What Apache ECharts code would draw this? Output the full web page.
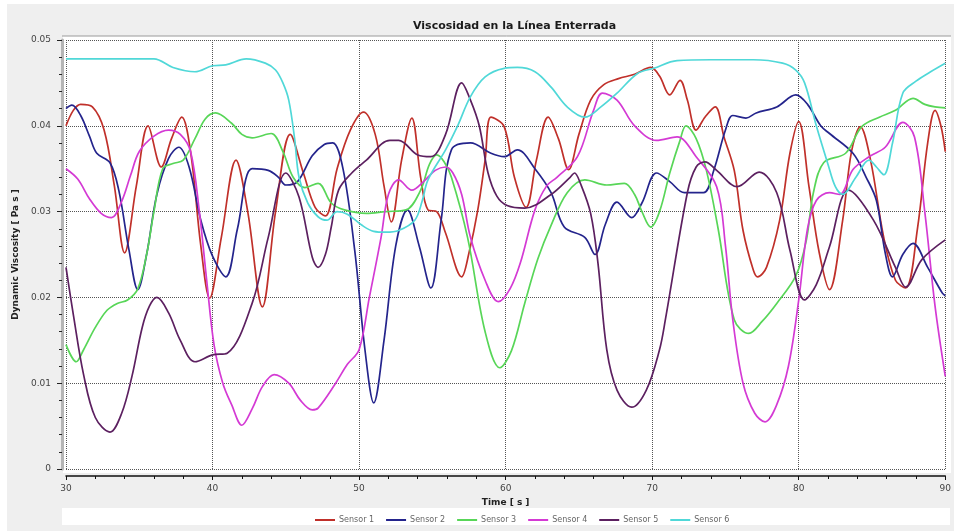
<!DOCTYPE html>
<html>
<head>
<meta charset="utf-8">
<script src="https://cdn.jsdelivr.net/npm/echarts@6/dist/echarts.min.js"></script>
<style>html,body{margin:0;padding:0;background:#fff}#c{width:954px;height:531px}</style>
</head>
<body>
<div id="c"></div>
<script>
const seriesNames = ['Sensor 1','Sensor 2','Sensor 3','Sensor 4','Sensor 5','Sensor 6'];
const seriesColors = ['#c0302a','#24248c','#58d658','#d43ad4','#5c2060','#50d8d8'];
const xTicks = [30,40,50,60,70,80,90];
const yTicks = [0,0.01,0.02,0.03,0.04,0.05];

const s1 = [[30,0.0400],[30.5,0.0418],[31,0.0425],[31.8,0.0422],[32.6,0.0395],[33.3,0.0330],[34.0,0.0252],[34.8,0.0330],[35.6,0.0400],[36.5,0.0352],[37.2,0.0385],[37.9,0.0410],[38.5,0.0370],[39.2,0.0260],[39.8,0.0199],[40.6,0.0270],[41.6,0.0360],[42.4,0.0300],[43.4,0.0189],[44.3,0.0300],[45.3,0.0390],[46.2,0.0345],[47.0,0.0305],[47.7,0.0295],[48.5,0.0350],[49.4,0.0395],[50.3,0.0416],[51.1,0.0390],[51.7,0.0330],[52.2,0.0288],[52.9,0.0360],[53.6,0.0409],[54.2,0.0340],[54.7,0.0302],[55.3,0.0300],[55.9,0.0275],[57.0,0.0224],[57.5,0.0252],[58.1,0.0302],[58.6,0.0360],[59.0,0.0410],[59.9,0.0399],[60.6,0.0340],[61.4,0.0305],[62.1,0.0360],[62.9,0.0410],[63.6,0.0385],[64.3,0.0349],[65.0,0.0390],[65.8,0.0430],[66.7,0.0448],[67.7,0.0455],[68.8,0.0460],[69.9,0.0468],[70.5,0.0458],[71.2,0.0436],[71.9,0.0453],[72.4,0.0430],[73.0,0.0395],[73.6,0.0410],[74.3,0.0422],[74.9,0.0387],[75.6,0.0348],[76.2,0.0278],[76.9,0.0232],[77.2,0.0224],[77.8,0.0235],[78.7,0.0290],[79.4,0.0368],[80.0,0.0405],[80.7,0.0329],[81.4,0.0252],[82.1,0.0209],[83.0,0.0290],[83.6,0.0370],[84.2,0.0399],[84.9,0.0360],[85.8,0.0270],[86.6,0.0220],[87.3,0.0211],[88.1,0.0280],[88.8,0.0380],[89.3,0.0418],[89.7,0.0400],[90.0,0.0370]];

const s2 = [[30,0.0420],[30.4,0.0424],[31.0,0.0412],[31.6,0.0388],[32.1,0.0368],[33.0,0.0357],[33.6,0.0325],[34.3,0.0255],[34.9,0.0209],[35.5,0.0250],[36.2,0.0320],[37.0,0.0362],[37.7,0.0375],[38.4,0.0352],[39.2,0.0290],[40.0,0.0248],[40.9,0.0224],[41.7,0.0280],[42.7,0.0350],[43.8,0.0348],[44.5,0.0340],[45.0,0.0331],[45.8,0.0335],[46.8,0.0365],[47.6,0.0378],[48.2,0.0380],[48.9,0.0350],[49.7,0.0255],[50.4,0.0139],[51.0,0.0077],[51.7,0.0150],[52.5,0.0260],[53.3,0.0302],[54.1,0.0260],[54.9,0.0211],[55.6,0.0290],[56.3,0.0372],[57.6,0.0380],[59.0,0.0368],[59.9,0.0364],[60.8,0.0372],[62.0,0.0350],[63.1,0.0322],[64.0,0.0282],[65.4,0.0270],[66.1,0.0250],[66.8,0.0285],[67.6,0.0311],[68.6,0.0293],[69.3,0.0310],[70.3,0.0345],[71.2,0.0335],[72.2,0.0322],[73.5,0.0322],[74.2,0.0348],[75.0,0.0395],[75.5,0.0412],[76.4,0.0409],[77.1,0.0415],[78.5,0.0422],[79.8,0.0436],[80.6,0.0425],[81.5,0.0400],[82.1,0.0391],[83.7,0.0368],[84.6,0.0340],[85.3,0.0313],[85.9,0.0252],[86.4,0.0224],[87.1,0.0250],[87.8,0.0263],[88.8,0.0235],[89.8,0.0205],[90,0.0202]];

const s3 = [[30,0.0145],[30.7,0.0125],[31.2,0.0139],[32.0,0.0165],[32.8,0.0185],[33.5,0.0193],[34.2,0.0197],[34.9,0.0210],[35.5,0.0250],[36.0,0.0300],[36.6,0.0350],[37.3,0.0356],[38.0,0.0360],[38.8,0.0385],[39.5,0.0408],[40.2,0.0415],[41.3,0.0403],[42.0,0.0390],[42.7,0.0386],[44.0,0.0391],[44.8,0.0370],[45.5,0.0340],[46.3,0.0328],[47.2,0.0333],[48.1,0.0310],[49.0,0.0302],[50.5,0.0298],[51.8,0.0300],[53.2,0.0302],[54.2,0.0325],[54.8,0.0355],[55.3,0.0366],[55.8,0.0358],[56.3,0.0340],[57.4,0.0270],[58.6,0.0160],[59.6,0.0118],[60.4,0.0138],[61.3,0.0193],[62.2,0.0245],[63.1,0.0284],[64.2,0.0322],[65.4,0.0337],[66.9,0.0331],[68.1,0.0333],[68.8,0.0320],[69.3,0.0300],[69.9,0.0282],[70.5,0.0300],[71.2,0.0345],[71.9,0.0383],[72.3,0.0400],[73.0,0.0385],[73.7,0.0348],[74.5,0.0280],[75.6,0.0174],[76.6,0.0158],[77.5,0.0172],[78.5,0.0193],[79.8,0.0225],[80.5,0.0265],[81.0,0.0322],[81.7,0.0357],[83.2,0.0368],[84.3,0.0399],[85.5,0.0410],[86.6,0.0418],[87.8,0.0432],[88.6,0.0425],[89.3,0.0422],[90,0.0421]];

const s4 = [[30,0.0350],[30.8,0.0338],[31.6,0.0315],[32.4,0.0298],[33.1,0.0293],[33.8,0.0312],[34.4,0.0342],[35.0,0.0370],[36.0,0.0388],[37.0,0.0395],[37.8,0.0390],[38.5,0.0370],[39.1,0.0300],[39.6,0.0220],[40.1,0.0145],[40.7,0.0100],[41.3,0.0075],[42.0,0.0051],[42.7,0.0070],[43.4,0.0096],[44.2,0.0110],[45.2,0.0100],[46.0,0.0080],[46.8,0.0069],[47.2,0.0071],[48.4,0.0100],[49.2,0.0122],[50.0,0.0139],[50.7,0.0200],[51.5,0.0270],[52.0,0.0320],[52.7,0.0337],[53.6,0.0325],[54.4,0.0335],[55.2,0.0348],[55.9,0.0352],[56.4,0.0345],[57.0,0.0320],[57.6,0.0270],[58.6,0.0220],[59.5,0.0195],[60.3,0.0210],[61.0,0.0240],[62.0,0.0302],[62.8,0.0330],[63.5,0.0340],[64.9,0.0364],[66.0,0.0418],[66.6,0.0438],[67.6,0.0430],[68.8,0.0400],[70.3,0.0383],[71.7,0.0387],[73.0,0.0364],[74.4,0.0329],[75.0,0.0260],[75.5,0.0174],[76.2,0.0100],[77.0,0.0065],[77.7,0.0055],[78.5,0.0075],[79.3,0.0120],[80.0,0.0197],[80.6,0.0280],[81.2,0.0313],[82.1,0.0322],[82.8,0.0320],[83.7,0.0349],[84.8,0.0364],[85.9,0.0375],[87.1,0.0404],[87.9,0.0387],[88.6,0.0300],[89.3,0.0190],[90,0.0108]];

const s5 = [[30,0.0235],[30.5,0.0180],[31.2,0.0110],[32.0,0.0060],[33.0,0.0043],[33.8,0.0065],[34.5,0.0108],[35.2,0.0165],[35.7,0.0190],[36.2,0.0200],[37.0,0.0182],[37.8,0.0150],[38.8,0.0125],[40.0,0.0133],[41.0,0.0135],[42.7,0.0193],[43.8,0.0270],[45.0,0.0345],[45.9,0.0317],[46.8,0.0247],[47.2,0.0235],[47.7,0.0250],[48.1,0.0282],[48.6,0.0325],[49.5,0.0345],[50.5,0.0360],[52.1,0.0383],[52.7,0.0383],[54.0,0.0366],[54.9,0.0364],[55.9,0.0390],[57.0,0.0450],[57.6,0.0430],[58.2,0.0400],[58.8,0.0345],[59.4,0.0318],[60.1,0.0307],[61.3,0.0304],[63.1,0.0320],[64.4,0.0340],[64.7,0.0345],[65.1,0.0333],[65.8,0.0298],[66.3,0.0240],[66.9,0.0139],[67.6,0.0092],[68.6,0.0072],[69.6,0.0092],[70.5,0.0139],[70.9,0.0174],[72.4,0.0322],[73.0,0.0352],[73.6,0.0358],[74.4,0.0348],[75.8,0.0329],[77.3,0.0346],[78.5,0.0322],[79.4,0.0255],[80.4,0.0197],[81.2,0.0215],[82.1,0.0259],[83.4,0.0325],[85.1,0.0290],[86.6,0.0235],[87.3,0.0212],[88.4,0.0244],[90,0.0267]];

const s6 = [[30,0.0478],[33,0.0478],[36,0.0478],[37.3,0.0468],[38.8,0.0463],[40.0,0.0470],[40.9,0.0471],[42.3,0.0478],[43.6,0.0473],[44.3,0.0465],[44.8,0.0450],[45.2,0.0430],[45.6,0.0385],[45.9,0.0340],[46.5,0.0310],[47.2,0.0294],[47.8,0.0290],[48.5,0.0300],[49.2,0.0297],[50.2,0.0284],[51.0,0.0277],[51.8,0.0276],[52.7,0.0278],[53.8,0.0290],[54.3,0.0312],[54.7,0.0337],[55.9,0.0372],[56.7,0.0399],[57.6,0.0434],[58.6,0.0457],[59.9,0.0467],[60.8,0.0468],[62.0,0.0463],[63.1,0.0445],[64.2,0.0422],[65.4,0.0410],[66.5,0.0422],[67.6,0.0438],[69.0,0.0461],[70.1,0.0467],[71.7,0.0476],[74.0,0.0477],[76.9,0.0477],[78.9,0.0473],[79.8,0.0465],[80.4,0.0450],[81.2,0.0400],[82.0,0.0355],[82.5,0.0329],[83.0,0.0320],[83.9,0.0340],[84.8,0.0360],[85.3,0.0352],[85.8,0.0343],[86.4,0.0380],[87.1,0.0438],[88.0,0.0452],[89.0,0.0463],[90,0.0473]];

const allData = [s1,s2,s3,s4,s5,s6];
const FONT = 'DejaVu Sans';

const chart = echarts.init(document.getElementById('c'), null, {renderer:'canvas'});
chart.setOption({
  backgroundColor: '#ffffff',
  animation: false,
  graphic: [
    {type:'rect', z:-10, shape:{x:7,y:4,width:947,height:527}, style:{fill:'#efefef'}},
    {type:'rect', z:-9, shape:{x:63,y:36,width:888,height:437}, style:{fill:'#ffffff'}},
    {type:'line', z:-8, shape:{x1:62,y1:36,x2:951,y2:36}, style:{stroke:'#9a9a9a',lineWidth:1}},
    {type:'rect', z:-9, shape:{x:62,y:508,width:888,height:17}, style:{fill:'#ffffff'}}
  ],
  title: {
    text: 'Viscosidad en la Línea Enterrada',
    left: 408, top: 16,
    textStyle: {fontFamily: FONT, fontSize: 11, fontWeight: 'bold', color: '#1a1a1a'}
  },
  legend: {
    data: seriesNames,
    left: 310, top: 511,
    icon: 'rect', itemWidth: 20, itemHeight: 2, itemGap: 12,
    textStyle: {fontFamily: FONT, fontSize: 8, color: '#666', padding:[0,0,0,-1]}
  },
  grid: {left: 66, right: 4, top: 40, bottom: 62, containLabel: false},
  xAxis: {
    type: 'value', min: 30, max: 90, interval: 10, offset: 7,
    name: 'Time [ s ]', nameLocation: 'middle', nameGap: 19,
    nameTextStyle: {fontFamily: FONT, fontSize: 9, fontWeight: 'bold', color: '#222'},
    axisLine: {show: true, onZero:false, lineStyle: {color: '#111', width: 1.5}},
    axisTick: {show: true, length: 4, lineStyle: {color: '#111'}},
    minorTick: {show: true, splitNumber: 5, length: 3, lineStyle: {color: '#111'}},
    axisLabel: {fontFamily: FONT, fontSize: 9, color: '#444', margin: 8,
      formatter: v => xTicks.includes(v) ? String(v) : ''},
    splitLine: {show: true, lineStyle: {color: '#555', type: 'dotted', width: 1}}
  },
  yAxis: {
    type: 'value', min: 0, max: 0.05, interval: 0.01, offset: 4,
    name: 'Dynamic Viscosity [ Pa s ]', nameLocation: 'middle', nameGap: 38,
    nameTextStyle: {fontFamily: FONT, fontSize: 9, fontWeight: 'bold', color: '#222'},
    axisLine: {show: true, onZero:false, lineStyle: {color: '#b5b5b5', width: 3}},
    axisTick: {show: true, length: 5, lineStyle: {color: '#222'}},
    minorTick: {show: true, splitNumber: 5, length: 3, lineStyle: {color: '#222'}},
    axisLabel: {fontFamily: FONT, fontSize: 9, color: '#444', margin: 11,
      formatter: v => { const t = yTicks.find(k => Math.abs(k - v) < 1e-9); return t === undefined ? '' : (t === 0 ? '0' : t.toFixed(2)); }},
    splitLine: {show: true, lineStyle: {color: '#555', type: 'dotted', width: 1}}
  },
  series: allData.map((d, i) => ({
    name: seriesNames[i],
    type: 'line',
    data: d,
    smooth: 0.35,
    showSymbol: false,
    symbol: 'none',
    lineStyle: {color: seriesColors[i], width: 1.7},
    itemStyle: {color: seriesColors[i]}
  }))
});
</script>
</body>
</html>
